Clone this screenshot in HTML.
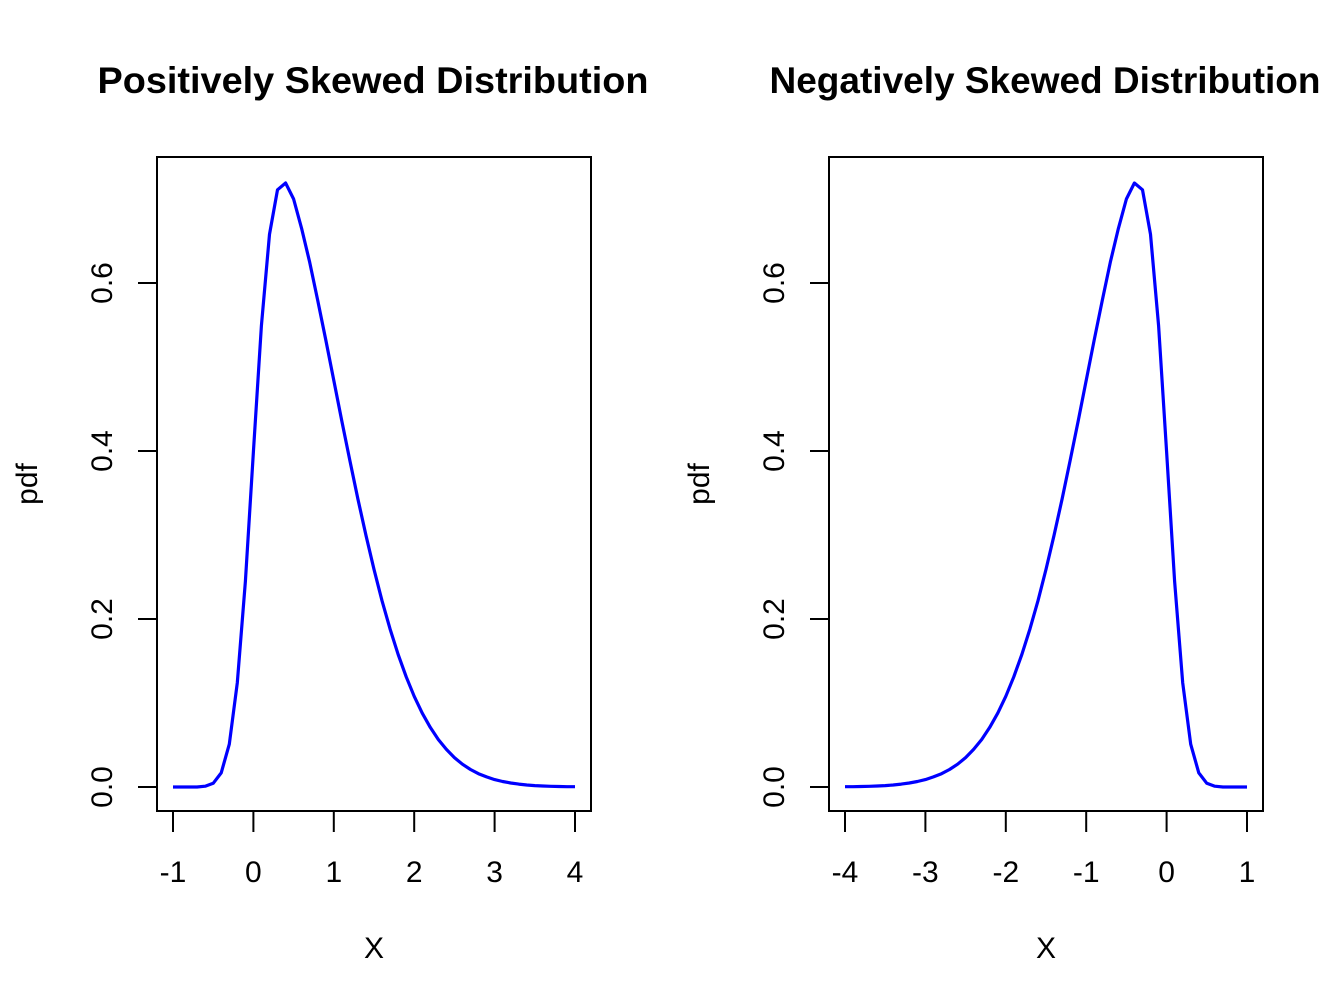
<!DOCTYPE html>
<html><head><meta charset="utf-8"><style>
html,body{margin:0;padding:0;background:#fff;}
svg{display:block;font-family:"Liberation Sans",Arial,sans-serif;}
</style></head><body>
<svg id="chart" width="1344" height="1008" viewBox="0 0 1344 1008" xmlns="http://www.w3.org/2000/svg">
<rect width="1344" height="1008" fill="#fff"/>
</svg>
<script>
const posX = [-1,-0.9,-0.8,-0.7,-0.6,-0.5,-0.4,-0.3,-0.2,-0.1,0,0.1,0.2,0.3,0.4,0.5,0.6,0.7,0.8,0.9,1,1.1,1.2,1.3,1.4,1.5,1.6,1.7,1.8,1.9,2,2.1,2.2,2.3,2.4,2.5,2.6,2.7,2.8,2.9,3,3.1,3.2,3.3,3.4,3.5,3.6,3.7,3.8,3.9,4];
const posPdf = [0,0,0,0,0.0009,0.0044,0.0168,0.051,0.124,0.245,0.399,0.549,0.658,0.711,0.719,0.700,0.665,0.6246,0.5794,0.5322,0.484,0.4358,0.3884,0.3428,0.2994,0.259,0.2218,0.188,0.158,0.1312,0.108,0.088,0.071,0.0566,0.0448,0.035,0.0272,0.0208,0.0158,0.012,0.0088,0.0066,0.0048,0.0034,0.0024,0.0017,0.0012,0.0008,0.0006,0.0004,0.0003];
const negX = posX.map(v => -v);
const negPdf = posPdf.slice();
const posXTicks = [-1,0,1,2,3,4];
const negXTicks = [-4,-3,-2,-1,0,1];
const yTicks = [0,0.2,0.4,0.6];
const yTickLabels = ["0.0","0.2","0.4","0.6"];
const titles = ["Positively Skewed Distribution","Negatively Skewed Distribution"];

const NS = "http://www.w3.org/2000/svg";
const svg = document.getElementById('chart');
function mk(tag, attrs, parent){
  const e = document.createElementNS(NS, tag);
  for (const k in attrs) e.setAttribute(k, attrs[k]);
  (parent||svg).appendChild(e);
  return e;
}
function panel(ox, xmin, xs, ys, xticks, title, key){
  const g = mk('g', {});
  
  
  const sx = v => ox + 173 + (v - xmin) * 80.4;
  const sy = v => 787 - v * 840;
  const t = mk('text', {x: ox + 373, y: 93, 'text-anchor': 'middle', 'font-size': 37, 'font-weight': 'bold', fill: '#000', textLength: 551, lengthAdjust: 'spacingAndGlyphs'}, g);
  t.textContent = title;
  
  
  const box = mk('rect', {x: ox + 157, y: 157, width: 434, height: 654, fill: 'none', stroke: '#000', 'stroke-width': 2}, g);
  
  
  const xa = mk('g', {}, g);
  
  
  xticks.forEach(v => {
    mk('line', {x1: sx(v), x2: sx(v), y1: 811, y2: 832, stroke: '#000', 'stroke-width': 2}, xa);
    const l = mk('text', {x: sx(v), y: 882, 'text-anchor': 'middle', 'font-size': 30, fill: '#000'}, xa);
    l.textContent = String(v);
    
    
  });
  const ya = mk('g', {}, g);
  
  
  yTicks.forEach((v, i) => {
    mk('line', {x1: ox + 138, x2: ox + 157, y1: sy(v), y2: sy(v), stroke: '#000', 'stroke-width': 2}, ya);
    const l = mk('text', {x: 0, y: 0, transform: `translate(${ox + 112},${sy(v)}) rotate(-90)`, 'text-anchor': 'middle', 'font-size': 30, fill: '#000'}, ya);
    l.textContent = yTickLabels[i];
    
    
  });
  const xl = mk('text', {x: ox + 374, y: 958, 'text-anchor': 'middle', 'font-size': 30, fill: '#000'}, g);
  xl.textContent = 'X';
  
  
  const yl = mk('text', {x: 0, y: 0, transform: `translate(${ox + 37},484) rotate(-90)`, 'text-anchor': 'middle', 'font-size': 30, fill: '#000'}, g);
  yl.textContent = 'pdf';
  
  
  const pts = xs.map((v, i) => [sx(v), sy(ys[i])]).sort((a, b) => a[0] - b[0]);
  const line = mk('polyline', {points: pts.map(p => p[0].toFixed(1) + ',' + p[1].toFixed(1)).join(' '), fill: 'none', stroke: '#0000ff', 'stroke-width': 3.2, 'stroke-linejoin': 'round'}, g);
  
  
}
panel(0, -1, posX, posPdf, posXTicks, titles[0], 'positive-skew');
panel(672, -4, negX, negPdf, negXTicks, titles[1], 'negative-skew');
</script>
</body></html>
